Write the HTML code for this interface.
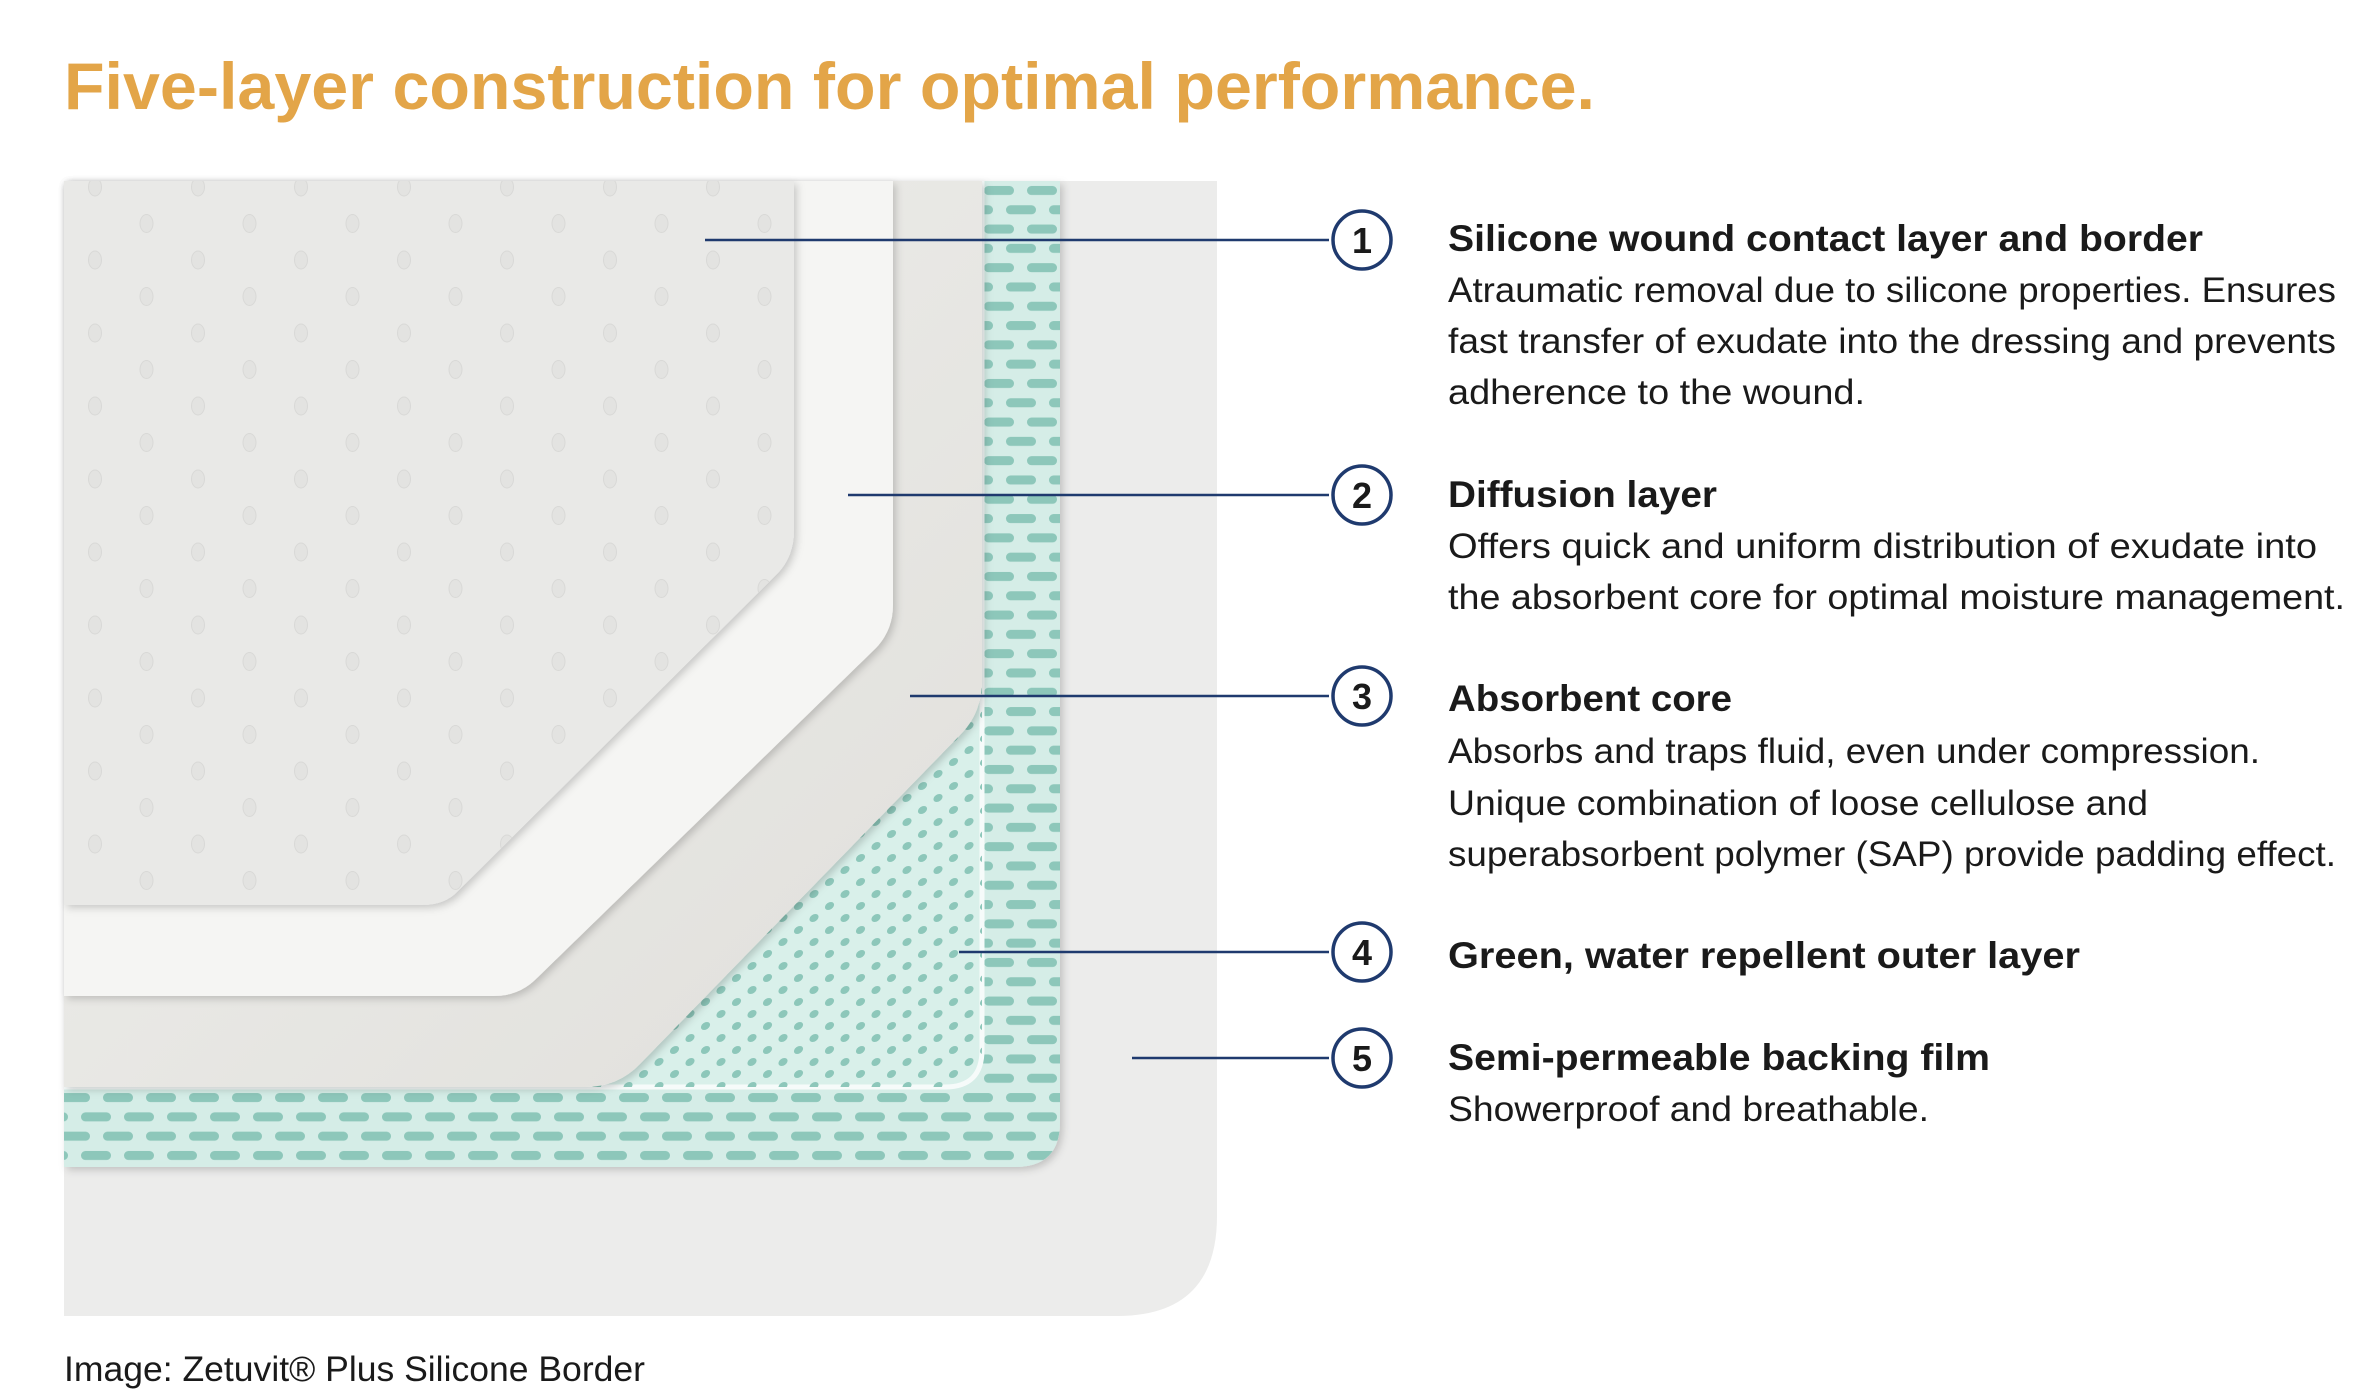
<!DOCTYPE html>
<html><head><meta charset="utf-8"><style>
html,body{margin:0;padding:0;background:#fff;}
svg{display:block;}
</style></head><body>
<svg width="2374" height="1398" viewBox="0 0 2374 1398" xmlns="http://www.w3.org/2000/svg">
<defs>
  <pattern id="dash" x="982" y="181" width="43" height="38.6" patternUnits="userSpaceOnUse">
    <rect x="2" y="5" width="30" height="9" rx="4.5" fill="#8DC7BA"/>
    <rect x="24" y="24.3" width="30" height="9" rx="4.5" fill="#8DC7BA"/>
    <rect x="-19" y="24.3" width="30" height="9" rx="4.5" fill="#8DC7BA"/>
  </pattern>
  <pattern id="dots" x="0" y="0" width="31" height="24" patternUnits="userSpaceOnUse">
    <ellipse cx="8" cy="6" rx="5" ry="3.5" transform="rotate(-35 8 6)" fill="#8DC7BA"/>
    <ellipse cx="23.5" cy="18" rx="5" ry="3.5" transform="rotate(-35 23.5 18)" fill="#8DC7BA"/>
  </pattern>
  <pattern id="holes" x="95" y="187" width="103" height="73" patternUnits="userSpaceOnUse">
    <ellipse cx="0" cy="0" rx="6.5" ry="9" fill="#E3E3E1" stroke="#D9D9D7" stroke-width="1"/>
    <ellipse cx="103" cy="0" rx="6.5" ry="9" fill="#E3E3E1" stroke="#D9D9D7" stroke-width="1"/>
    <ellipse cx="0" cy="73" rx="6.5" ry="9" fill="#E3E3E1" stroke="#D9D9D7" stroke-width="1"/>
    <ellipse cx="103" cy="73" rx="6.5" ry="9" fill="#E3E3E1" stroke="#D9D9D7" stroke-width="1"/>
    <ellipse cx="51.5" cy="36.5" rx="6.5" ry="9" fill="#E3E3E1" stroke="#D9D9D7" stroke-width="1"/>
  </pattern>
  <linearGradient id="coreg" x1="0" y1="0" x2="1" y2="1">
    <stop offset="0" stop-color="#F0F0ED"/><stop offset="1" stop-color="#E0DFDB"/>
  </linearGradient>
  <filter id="sh" x="-5%" y="-5%" width="115%" height="115%">
    <feDropShadow dx="3" dy="3" stdDeviation="4" flood-color="#000" flood-opacity="0.18"/>
  </filter>
  <clipPath id="greenclip"><path d="M64,181 H1060 V1122 Q1060,1167 1015,1167 H64 Z"/></clipPath>
</defs>

<text x="64" y="109" font-family="Liberation Sans, sans-serif" font-weight="bold" font-size="66" fill="#E3A548" textLength="1531" lengthAdjust="spacingAndGlyphs">Five-layer construction for optimal performance.</text>

<path d="M64,181 H1217 V1216 Q1217,1316 1117,1316 H64 Z" fill="#ECECEB"/>

<g filter="url(#sh)">
<path d="M64,181 H1060 V1122 Q1060,1167 1015,1167 H64 Z" fill="#D5EDE7"/>
</g>
<g clip-path="url(#greenclip)">
  <rect x="64" y="181" width="1000" height="990" fill="url(#dash)"/>
  <path d="M64,181 H982 V1050 Q982,1087 945,1087 H64 Z" fill="#D9F0EA" stroke="#F6FBFA" stroke-width="5"/>
  <path d="M64,181 H982 V1050 Q982,1087 945,1087 H64 Z" fill="url(#dots)"/>
</g>

<path d="M64,181 H982 V680 Q982,712 962,733 L640,1064 Q618,1087 585,1087 H64 Z" fill="url(#coreg)" filter="url(#sh)"/>
<path d="M64,181 H893 V605 Q893,630 876,648 L535,980 Q518,996 494,996 H64 Z" fill="#F5F5F3" filter="url(#sh)"/>
<path d="M64,181 H794 V530 Q794,556 778,573 L458,891 Q445,905 422,905 H64 Z" fill="#E9E9E7" filter="url(#sh)"/>
<clipPath id="cc"><path d="M64,181 H794 V530 Q794,556 778,573 L458,891 Q445,905 422,905 H64 Z"/></clipPath>
<rect x="64" y="181" width="740" height="730" fill="url(#holes)" clip-path="url(#cc)"/>

<g stroke="#1F3A6E" stroke-width="2.5" fill="none">
  <line x1="705" y1="240" x2="1329" y2="240"/>
  <line x1="848" y1="495" x2="1329" y2="495"/>
  <line x1="910" y1="696" x2="1329" y2="696"/>
  <line x1="959" y1="952" x2="1329" y2="952"/>
  <line x1="1132" y1="1058" x2="1329" y2="1058"/>
  <g stroke-width="3.5" fill="#fff">
    <circle cx="1362" cy="240" r="29"/>
    <circle cx="1362" cy="495" r="29"/>
    <circle cx="1362" cy="696" r="29"/>
    <circle cx="1362" cy="952" r="29"/>
    <circle cx="1362" cy="1058" r="29"/>
  </g>
</g>
<g font-family="Liberation Sans, sans-serif" font-weight="bold" font-size="36" fill="#1a1a1a" text-anchor="middle">
  <text x="1362" y="253">1</text>
  <text x="1362" y="508">2</text>
  <text x="1362" y="709">3</text>
  <text x="1362" y="965">4</text>
  <text x="1362" y="1071">5</text>
</g>

<g font-family="Liberation Sans, sans-serif" font-size="35" fill="#1a1a1a">
  <g font-weight="bold" font-size="37">
    <text x="1448" y="251" textLength="755" lengthAdjust="spacingAndGlyphs">Silicone wound contact layer and border</text>
    <text x="1448" y="507" textLength="269" lengthAdjust="spacingAndGlyphs">Diffusion layer</text>
    <text x="1448" y="711" textLength="284" lengthAdjust="spacingAndGlyphs">Absorbent core</text>
    <text x="1448" y="968" textLength="632" lengthAdjust="spacingAndGlyphs">Green, water repellent outer layer</text>
    <text x="1448" y="1070" textLength="542" lengthAdjust="spacingAndGlyphs">Semi-permeable backing film</text>
  </g>
  <text x="1448" y="302" textLength="888" lengthAdjust="spacingAndGlyphs">Atraumatic removal due to silicone properties. Ensures</text>
  <text x="1448" y="353" textLength="888" lengthAdjust="spacingAndGlyphs">fast transfer of exudate into the dressing and prevents</text>
  <text x="1448" y="404" textLength="417" lengthAdjust="spacingAndGlyphs">adherence to the wound.</text>
  <text x="1448" y="558" textLength="869" lengthAdjust="spacingAndGlyphs">Offers quick and uniform distribution of exudate into</text>
  <text x="1448" y="609" textLength="897" lengthAdjust="spacingAndGlyphs">the absorbent core for optimal moisture management.</text>
  <text x="1448" y="763" textLength="812" lengthAdjust="spacingAndGlyphs">Absorbs and traps fluid, even under compression.</text>
  <text x="1448" y="815" textLength="700" lengthAdjust="spacingAndGlyphs">Unique combination of loose cellulose and</text>
  <text x="1448" y="866" textLength="888" lengthAdjust="spacingAndGlyphs">superabsorbent polymer (SAP) provide padding effect.</text>
  <text x="1448" y="1121" textLength="481" lengthAdjust="spacingAndGlyphs">Showerproof and breathable.</text>
  <text x="64" y="1381" textLength="581" lengthAdjust="spacingAndGlyphs">Image: Zetuvit® Plus Silicone Border</text>
</g>
</svg>
</body></html>
